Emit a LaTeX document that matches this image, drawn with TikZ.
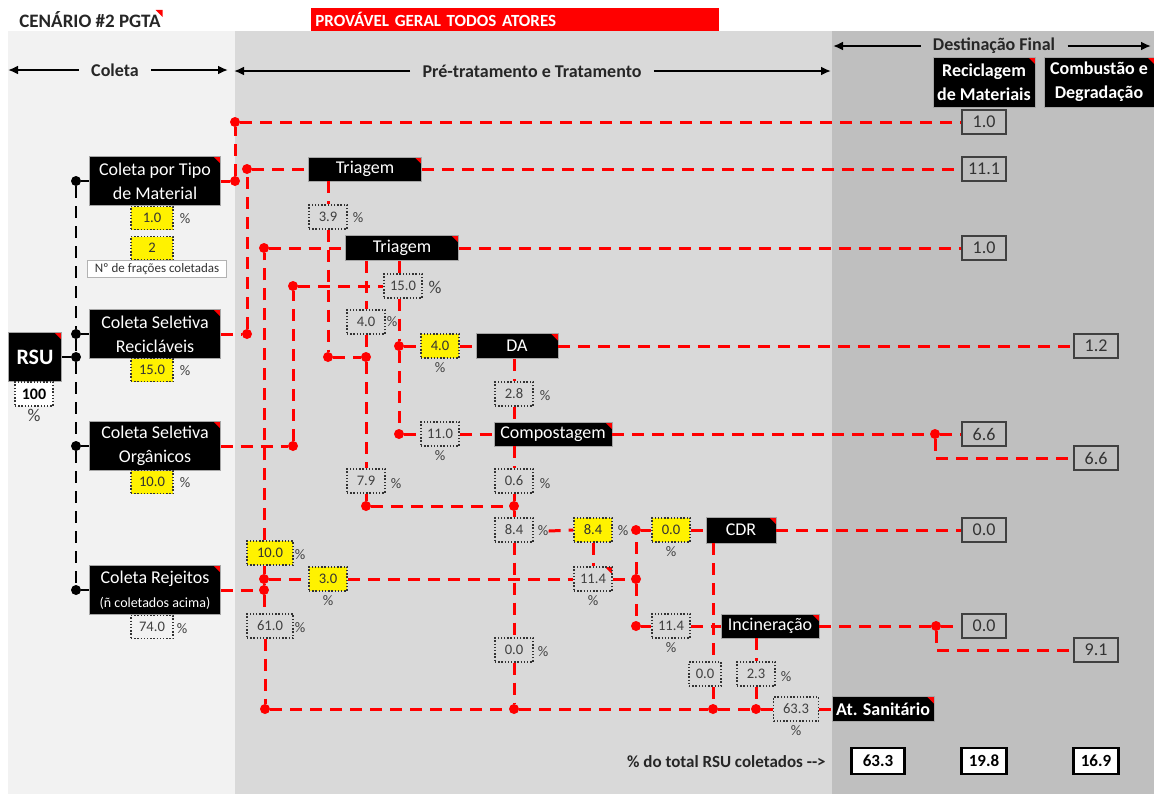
\documentclass[tikz,border=0pt]{standalone}
\usepackage{fontspec}
\setmainfont{Carlito}
\usepackage{tikz}
\usepackage{xcolor}
\usetikzlibrary{arrows.meta, positioning, calc}

\definecolor{panelL}{HTML}{F2F2F2}
\definecolor{panelM}{HTML}{D9D9D9}
\definecolor{panelR}{HTML}{BFBFBF}
\definecolor{txtgray}{HTML}{404040}

\begin{document}
\begin{tikzpicture}[
            x=0.5pt, y=-0.5pt, >={Latex[length=5pt,width=4.5pt]},
            cmt/.style={path picture={\fill[red] ([xshift=-3.5pt]path picture bounding box.north east) -- (path picture bounding box.north east) -- ([yshift=-3.5pt]path picture bounding box.north east) -- cycle;}},
            blk/.style={rectangle, fill=black, draw=gray!70, line width=0.4pt, text=white, align=center, inner sep=0pt, font=\fontsize{9}{12}\selectfont, cmt},
            col/.style={blk, minimum width=65.5pt, minimum height=24.5pt},
            proc/.style={blk, minimum height=12.5pt},
            val/.style={rectangle, draw=black!80, line width=0.7pt, dash pattern=on 0.7pt off 0.9pt, fill=panelM, minimum width=19pt, minimum height=12pt, inner sep=0pt, text=txtgray, font=\fontsize{7.3}{9}\selectfont},
            yel/.style={val, fill=yellow, text=black!80},
            lyel/.style={yel, minimum width=21pt, minimum height=11.5pt},
            fin/.style={rectangle, draw=txtgray, line width=1pt, fill=panelR, minimum width=22pt, minimum height=12pt, inner sep=0pt, text=black!80, font=\fontsize{9}{10}\selectfont},
            tot/.style={rectangle, draw=black, line width=1.2pt, fill=white, minimum width=22.5pt, minimum height=13pt, inner sep=0pt, font=\bfseries\fontsize{8.5}{10}\selectfont},
            pct/.style={inner sep=0pt, text=txtgray, font=\fontsize{7.3}{9}\selectfont},
            hdr/.style={inner xsep=6pt, text=black!85, font=\bfseries\fontsize{9}{11}\selectfont},
            harrow/.style={->, line width=1pt},
            flow/.style={red, line width=1.5pt, dash pattern=on 6pt off 4pt},
            link/.style={black, line width=1.2pt, dash pattern=on 6pt off 4pt},
            rdot/.style={circle, fill=red, inner sep=0pt, minimum size=5pt},
            bdot/.style={circle, fill=black, inner sep=0pt, minimum size=5pt}
        ]
            \useasboundingbox (0,0) rectangle (1154,794);

% Panels
            \fill[white] (0,0) rectangle (1154,794);
            \fill[panelL] (8,31) rectangle (235,794);
            \fill[panelM] (235,31) rectangle (832,794);
            \fill[panelR] (832,31) rectangle (1154,794);

% Title strip
            \node[anchor=west, inner sep=1pt, text=black!85, font=\bfseries\fontsize{9.5}{11}\selectfont, cmt] (tit) at (17,20) {CENÁRIO \#2 PGTA};
            \node[anchor=north west, fill=red, text=white, minimum height=11.5pt, text width=200pt, inner xsep=2pt, inner ysep=0pt, align=left, font=\bfseries\fontsize{8.5}{10}\selectfont] (ban) at (311,8) {PROVÁVEL GERAL TODOS ATORES};

% Phase headers
            \node[hdr] (hcol) at (115,70) {Coleta};
            \node[hdr] (htrat) at (532,71) {Pré-tratamento e Tratamento};
            \node[hdr] (hdest) at (994,46) {Destinação Final};
            \coordinate (colL) at (8,70);
            \coordinate (colR) at (228,70);
            \coordinate (tratL) at (234,71);
            \coordinate (tratR) at (831,71);
            \coordinate (destL) at (833,46);
            \coordinate (destR) at (1151,46);
            \draw[harrow] (hcol) -- (colL);
            \draw[harrow] (hcol) -- (colR);
            \draw[harrow] (htrat) -- (tratL);
            \draw[harrow] (htrat) -- (tratR);
            \draw[harrow] (hdest) -- (destL);
            \draw[harrow] (hdest) -- (destR);

% Final destination columns
            \node[blk, font=\bfseries\fontsize{9}{12}\selectfont, minimum width=51pt, minimum height=25pt] (rec) at (984,82) {Reciclagem\\de Materiais};
            \node[blk, font=\bfseries\fontsize{9}{12}\selectfont, minimum width=55pt, minimum height=25pt] (cmb) at (1099,82) {Combustão e\\Degradação};

% Collection
            \node[blk, font=\bfseries\fontsize{11}{13}\selectfont, minimum width=26.5pt, minimum height=24.5pt] (rsu) at (35,357) {RSU};
            \node[val, fill=white, text=black, font=\bfseries\fontsize{8}{9}\selectfont] (v100) at (34,394) {100};
            \node[col] (ctm) at (155,181) {Coleta por Tipo\\de Material};
            \node[lyel] (v1) at (152,218) {1.0};
            \node[lyel] (vnf) at (152,248) {2};
            \node[rectangle, draw=gray!60, line width=0.5pt, fill=white, minimum width=69.5pt, minimum height=8.5pt, inner sep=0pt, text=black!80, font=\fontsize{6.5}{7}\selectfont] (lfr) at (157,269) {Nº de frações coletadas};
            \node[col] (csr) at (155,334) {Coleta Seletiva\\Recicláveis};
            \node[lyel] (v15) at (152,370) {15.0};
            \node[col] (cso) at (155,446) {Coleta Seletiva\\Orgânicos};
            \node[lyel] (v10) at (152,482) {10.0};
            \node[col] (crj) at (155,590) {Coleta Rejeitos\\{\fontsize{7}{9}\selectfont(ñ coletados acima)}};
            \node[val, fill=panelL, minimum width=21pt, minimum height=11.5pt] (v74) at (152,627) {74.0};

% Pre-treatment and treatment
            \node[proc, minimum width=56.5pt, minimum height=12pt] (tri1) at (365,169) {Triagem};
            \node[val] (v39) at (328,217) {3.9};
            \node[proc, minimum width=56.5pt] (tri2) at (402,248) {Triagem};
            \node[val] (v150) at (403,286) {15.0};
            \node[val] (v40a) at (366,322) {4.0};
            \node[yel] (v40y) at (440,346) {4.0};
            \node[proc, minimum width=41pt] (da) at (517,346) {DA};
            \node[val] (v28) at (514,394) {2.8};
            \node[val] (v110) at (440,434) {11.0};
            \node[proc, minimum width=59pt, minimum height=12pt] (comp) at (553,434) {Compostagem};
            \node[val] (v06) at (514,481) {0.6};
            \node[val] (v79) at (366,481) {7.9};
            \node[val] (v84a) at (514,530) {8.4};
            \node[yel] (v84y) at (593,530) {8.4};
            \node[val, cmt] (v114a) at (593,579) {11.4};
            \node[yel, minimum width=23pt] (v100y) at (270,553) {10.0};
            \node[yel] (v30y) at (328,579) {3.0};
            \node[val, minimum width=23pt] (v610) at (270,626) {61.0};
            \node[val] (v00a) at (514,650) {0.0};
            \node[yel] (v00y) at (671,530) {0.0};
            \node[proc, minimum width=35pt, minimum height=13pt] (cdr) at (741,530) {CDR};
            \node[val] (v114b) at (671,626) {11.4};
            \node[proc, minimum width=49pt, minimum height=12pt] (inc) at (770,626) {Incineração};
            \node[val, minimum width=16pt] (v00b) at (705,674) {0.0};
            \node[val] (v23) at (756,674) {2.3};
            \node[val, minimum width=22.5pt] (v633) at (796,709) {63.3};
            \node[proc, minimum width=51pt, font=\bfseries\fontsize{9}{12}\selectfont] (ats) at (883,709) {At. Sanitário};

% Final destination values
            \node[fin] (r10a) at (984,122) {1.0};
            \node[fin] (r111) at (984,169) {11.1};
            \node[fin] (r10b) at (984,248) {1.0};
            \node[fin] (r12) at (1096,346) {1.2};
            \node[fin] (r66a) at (984,434) {6.6};
            \node[fin] (r66b) at (1096,458) {6.6};
            \node[fin] (r00a) at (984,530) {0.0};
            \node[fin] (r00b) at (984,626) {0.0};
            \node[fin] (r91) at (1096,650) {9.1};

% Totals
            \node[anchor=east, inner sep=0pt, text=black!85, font=\bfseries\fontsize{8.5}{10}\selectfont] (tlbl) at (826,762) {\% do total RSU coletados -{}->};
            \node[tot, minimum width=26.5pt] (t633) at (878,761) {63.3};
            \node[tot] (t198) at (984,761) {19.8};
            \node[tot] (t169) at (1096,761) {16.9};

% Percent labels
            \node[pct, font=\fontsize{9}{10}\selectfont] (pc100) at (34,415) {\%};
            \node[pct] (pc1) at (185,219) {\%};
            \node[pct] (pc15) at (185,371) {\%};
            \node[pct] (pc10) at (185,483) {\%};
            \node[pct] (pc74) at (182,629) {\%};
            \node[pct] (pc39) at (358,218) {\%};
            \node[pct, font=\fontsize{9}{10}\selectfont] (pc150) at (435,287) {\%};
            \node[pct] (pc40a) at (392,322) {\%};
            \node[pct] (pc40y) at (440,368) {\%};
            \node[pct] (pc28) at (545,396) {\%};
            \node[pct] (pc110) at (440,456) {\%};
            \node[pct] (pc06) at (545,484) {\%};
            \node[pct] (pc79) at (396,484) {\%};
            \node[pct] (pc84a) at (543,531) {\%};
            \node[pct] (pc84y) at (623,531) {\%};
            \node[pct] (pc114a) at (593,601) {\%};
            \node[pct] (pc100y) at (300,555) {\%};
            \node[pct] (pc30y) at (328,601) {\%};
            \node[pct] (pc610) at (300,628) {\%};
            \node[pct] (pc00a) at (543,652) {\%};
            \node[pct] (pc00y) at (671,552) {\%};
            \node[pct] (pc114b) at (671,648) {\%};
            \node[pct] (pc23) at (786,677) {\%};
            \node[pct] (pc633) at (796,731) {\%};

% Junction dots
            \node[bdot] (b1) at (76,181) {};
            \node[bdot] (b2) at (76,334) {};
            \node[bdot] (b3) at (76,357) {};
            \node[bdot] (b4) at (76,446) {};
            \node[bdot] (b5) at (76,590) {};
            \node[rdot] (j1) at (235,181) {};
            \node[rdot] (j2) at (235,122) {};
            \node[rdot] (j3) at (247,169) {};
            \node[rdot] (j4) at (247,334) {};
            \node[rdot] (j5) at (264,248) {};
            \node[rdot] (j6) at (264,579) {};
            \node[rdot] (j7) at (264,590) {};
            \node[rdot] (j8) at (265,709) {};
            \node[rdot] (j9) at (293,286) {};
            \node[rdot] (j10) at (293,446) {};
            \node[rdot] (j11) at (328,357) {};
            \node[rdot] (j12) at (366,357) {};
            \node[rdot] (j13) at (399,346) {};
            \node[rdot] (j14) at (399,434) {};
            \node[rdot] (j15) at (366,506) {};
            \node[rdot] (j16) at (514,506) {};
            \node[rdot] (j17) at (514,709) {};
            \node[rdot] (j18) at (636,530) {};
            \node[rdot] (j19) at (636,579) {};
            \node[rdot] (j20) at (636,626) {};
            \node[rdot] (j21) at (713,709) {};
            \node[rdot] (j22) at (756,709) {};
            \node[rdot] (j23) at (935,434) {};
            \node[rdot] (j24) at (936,626) {};

% Collection links
            \draw[link] (b1) -- (b2) -- (b3) -- (b4) -- (b5);
            \draw[line width=1.2pt] (rsu.east) -- (b3);
            \draw[line width=1.2pt] (b1) -- (ctm.west);
            \draw[line width=1.2pt] (b2) -- (csr.west);
            \draw[line width=1.2pt] (b4) -- (cso.west);
            \draw[line width=1.2pt] (b5) -- (crj.west);

% Material flows
            \draw[flow] (ctm.east) -- (j1);
            \draw[flow] (j1) -- (j2);
            \draw[flow] (j2) -- (r10a.west);
            \draw[flow] (csr.east) -- (j4);
            \draw[flow] (j4) -- (j3);
            \draw[flow] (j3) -- (tri1.west);
            \draw[flow] (tri1.east) -- (r111.west);
            \draw[flow] (tri1.south -| v39.north) -- (v39.north);
            \draw[flow] (v39.south) -- (j11);
            \draw[flow] (j11) -- (j12);

            \draw[flow] (cso.east) -- (j10);
            \draw[flow] (j10) -- (j9);
            \draw[flow] (j9) -- (v150.west);
            \draw[flow] (j5) -- (tri2.west);
            \draw[flow] (tri2.east) -- (r10b.west);
            \draw[flow] (tri2.south -| v40a.north) -- (v40a.north);
            \draw[flow] (tri2.south -| j13) -- (v150.north -| j13);
            \draw[flow] (v150.south -| j13) -- (j13);
            \draw[flow] (j13) -- (j14);
            \draw[flow] (j13) -- (v40y.west);
            \draw[flow] (v40y.east) -- (da.west);
            \draw[flow] (j14) -- (v110.west);
            \draw[flow] (v110.east) -- (comp.west);
            \draw[flow] (v40a.south) -- (j12);
            \draw[flow] (j12) -- (v79.north);
            \draw[flow] (v79.south) -- (j15);
            \draw[flow] (j15) -- (j16);

            \draw[flow] (da.east) -- (r12.west);
            \draw[flow] (da.south -| v28.north) -- (v28.north);
            \draw[flow] (v28.south) -- (comp.north -| v28.south);
            \draw[flow] (comp.south -| v06.north) -- (v06.north);
            \draw[flow] (v06.south) -- (j16);
            \draw[flow] (j16) -- (v84a.north);
            \draw[flow] (v84a.south) -- (v00a.north);
            \draw[flow] (v00a.south) -- (j17);
            \draw[flow] (comp.east) -- (j23);
            \draw[flow] (j23) -- (r66a.west);
            \draw[flow] (j23) |- (r66b.west);

            \draw[flow] (crj.east) -- (j7);
            \draw[flow] (j7) -- (j6);
            \draw[flow] (j6) -- (v100y.south -| j6);
            \draw[flow] (v100y.north -| j5) -- (j5);
            \draw[flow] (j6) -- (v30y.west);
            \draw[flow] (v30y.east) -- (v114a.west);
            \draw[flow] (j7) -- (v610.north -| j7);
            \draw[flow] (v610.south -| j8) -- (j8);

            \draw[flow] (pc84a.east) -- (v84y.west);
            \draw[flow] (v84y.south) -- (v114a.north);
            \draw[flow] (v114a.east) -- (j19);
            \draw[flow] (j19) -- (j18);
            \draw[flow] (j18) -- (v00y.west);
            \draw[flow] (v00y.east) -- (cdr.west);
            \draw[flow] (cdr.east) -- (r00a.west);
            \draw[flow] (j19) -- (j20);
            \draw[flow] (j20) -- (v114b.west);
            \draw[flow] (v114b.east) -- (inc.west);
            \draw[flow] (inc.east) -- (j24);
            \draw[flow] (j24) -- (r00b.west);
            \draw[flow] (j24) |- (r91.west);
            \draw[flow] (cdr.south -| j21) -- (v00b.north -| j21);
            \draw[flow] (v00b.south -| j21) -- (j21);
            \draw[flow] (inc.south -| j22) -- (v23.north -| j22);
            \draw[flow] (v23.south -| j22) -- (j22);

% Landfill line
            \draw[flow] (j8) -- (j17) -- (j21) -- (j22) -- (v633.west);
            \draw[flow] (v633.east) -- (ats.west);

        \end{tikzpicture}
\end{document}
